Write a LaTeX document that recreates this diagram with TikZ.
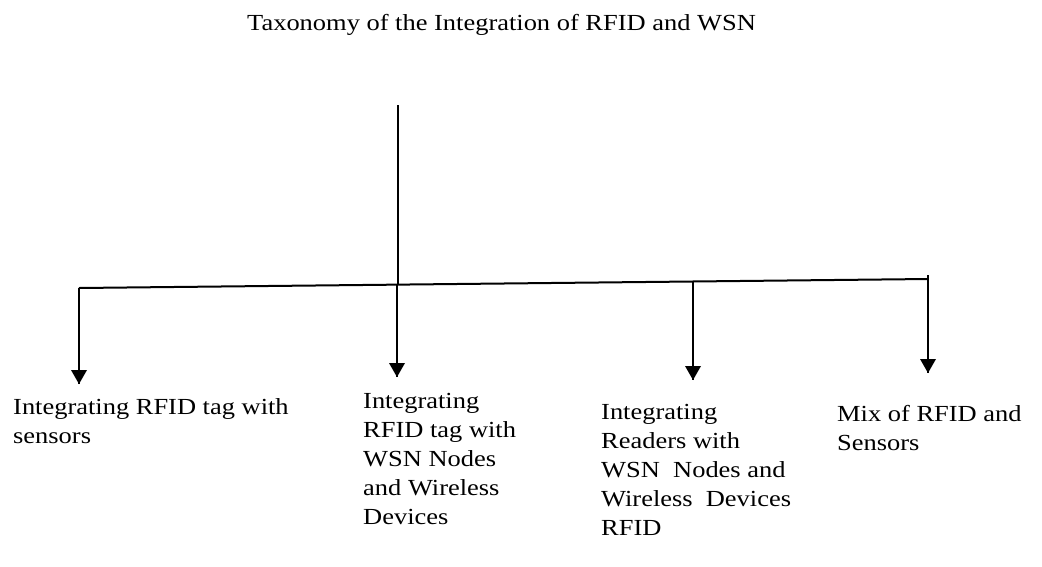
\documentclass[tikz,border=0pt]{standalone}
\usepackage{fontspec}
\setmainfont{Liberation Serif}[FakeStretch=1.15]

\begin{document}
\begin{tikzpicture}[x=1pt,y=-1pt]
            \tikzstyle{every node}+=[inner sep=0pt,anchor=north west]
            \tikzstyle{leaf}=[align=left,font=\fontsize{23}{29}\selectfont]
            \useasboundingbox (0,0) rectangle (1042,566);
            \node (title) at (247,14) {\fontsize{23}{29}\selectfont Taxonomy of the Integration of RFID and WSN};
            \coordinate (top) at (398,105);
            \coordinate (hub) at (398,284.6);
            \coordinate (b1) at (79,288);
            \coordinate (b2) at (397,284.6);
            \coordinate (b3) at (693,281.5);
            \coordinate (b4) at (928,279);
            \coordinate (t1) at (79,384);
            \coordinate (t2) at (397,377);
            \coordinate (t3) at (693,380);
            \coordinate (t4) at (928,373);
            \draw [black, line width=2] (top) -- (hub);
            \draw [black, line width=2] (b1) -- (b4);
            \draw [black, line width=2] (b1) -- (t1);
            \fill [black] (t1) -- +(-8,-14) -- +(8,-14) -- cycle;
            \draw [black, line width=2] (b2) -- (t2);
            \fill [black] (t2) -- +(-8,-14) -- +(8,-14) -- cycle;
            \draw [black, line width=2] (b3) -- (t3);
            \fill [black] (t3) -- +(-8,-14) -- +(8,-14) -- cycle;
            \draw [black, line width=2] ([yshift=4]b4) -- (t4);
            \fill [black] (t4) -- +(-8,-14) -- +(8,-14) -- cycle;
            \node [leaf] (sensors) at (13,398) {Integrating RFID tag with\\sensors};
            \node [leaf] (tagwsn) at (363,393) {Integrating\\RFID tag with\\WSN Nodes\\and Wireless\\Devices};
            \node [leaf] (readers) at (601,404) {Integrating\\Readers with\\WSN\ \ Nodes and\\Wireless\ \ Devices\\RFID};
            \node [leaf] (mix) at (837,405) {Mix of RFID and\\Sensors};
        \end{tikzpicture}
\end{document}
